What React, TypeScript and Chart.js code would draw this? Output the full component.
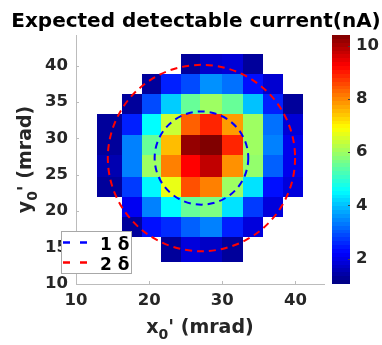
import React, { useEffect, useRef } from "react";
import { Chart, registerables } from "chart.js";

Chart.register(...registerables);

const chartTitle = "Expected detectable current(nA)";
const xLabelParts = ["x", "0", "' (mrad)"];
const yLabelParts = ["y", "0", "' (mrad)"];

const xTicks = [10, 20, 30, 40];
const yTicks = [10, 15, 20, 25, 30, 35, 40];
const colorTicks = [2, 4, 6, 8, 10];
const xRange = [10, 43.9];
const yRange = [10, 44.2];
const colorRange = [1.05, 10.4];

// cell edges in mrad (columns left->right, rows top->bottom)
const xEdges = [12.91, 16.33, 18.99, 21.63, 24.32, 26.96, 29.93, 32.89, 35.62, 38.36, 41.09];
const yEdges = [41.55, 38.8, 36.06, 33.32, 30.44, 27.7, 24.75, 21.93, 19.19, 16.45, 13.02];

const N = null;
// expected detectable current (nA), rows top->bottom
const currentRows: (number | null)[][] = [
  [N, N, N, N, 1.3, 1.75, 1.85, 1.3, N, N],
  [N, N, 1.3, 2.5, 2.9, 3.55, 3.25, 2.35, 1.8, N],
  [N, 1.3, 2.9, 4.1, 5.5, 6.0, 5.5, 4.0, 2.5, 1.3],
  [1.3, 2.5, 4.56, 6.4, 8.35, 8.9, 7.8, 6.0, 3.25, 1.85],
  [1.3, 3.4, 5.5, 7.5, 10.2, 10.4, 8.9, 6.0, 3.4, 2.05],
  [1.5, 3.4, 6.0, 8.06, 9.23, 9.8, 7.9, 5.9, 3.1, 2.05],
  [1.3, 2.75, 4.5, 6.7, 8.5, 8.06, 6.0, 4.3, 2.35, 1.9],
  [N, 2.1, 3.4, 4.56, 5.5, 5.7, 4.3, 2.75, 1.9, N],
  [N, 1.3, 2.35, 2.6, 3.1, 3.4, 2.5, 1.9, N, N],
  [N, N, N, 1.3, 1.9, 1.7, 1.3, N, N, N],
];

const sigmaLabels = ["1 δ", "2 δ"];
const sigmaColors = ["#0000ff", "#ff0000"];
const sigmaCenter = [27.15, 27.3];
const sigmaRadii = [6.4, 12.8];

const FONT = "'DejaVu Sans', sans-serif";
const TEXT = "#262626";
const AXIS = "#bcbcbc";

function jet(t: number) {
  const tt = Math.max(0, Math.min(1, t));
  const c = (v: number) => Math.round(255 * Math.max(0, Math.min(1, v)));
  const r = c(Math.min(4 * tt - 1.5, -4 * tt + 4.5));
  const g = c(Math.min(4 * tt - 0.5, -4 * tt + 3.5));
  const b = c(Math.min(4 * tt + 0.5, -4 * tt + 2.5));
  return `rgb(${r},${g},${b})`;
}

function drawSubLabel(ctx: CanvasRenderingContext2D, parts: string[], size: number, subSize: number) {
  ctx.font = `bold ${size}px ${FONT}`;
  const w0 = ctx.measureText(parts[0]).width;
  const w2 = ctx.measureText(parts[2]).width;
  ctx.font = `bold ${subSize}px ${FONT}`;
  const w1 = ctx.measureText(parts[1]).width;
  const total = w0 + w1 + w2;
  let x = -total / 2;
  ctx.textAlign = "left";
  ctx.textBaseline = "alphabetic";
  ctx.font = `bold ${size}px ${FONT}`;
  ctx.fillText(parts[0], x, 0);
  x += w0;
  ctx.font = `bold ${subSize}px ${FONT}`;
  ctx.fillText(parts[1], x, 6);
  x += w1;
  ctx.font = `bold ${size}px ${FONT}`;
  ctx.fillText(parts[2], x, 0);
}

const extrasPlugin = {
  id: "heatmapExtras",
  beforeDatasetsDraw(chart: any) {
    const { ctx } = chart;
    const xs = chart.scales.x;
    const ys = chart.scales.y;
    ctx.save();
    currentRows.forEach((row, r) => {
      row.forEach((v, c) => {
        if (v === null) return;
        const x0 = Math.round(xs.getPixelForValue(xEdges[c]));
        const x1 = Math.round(xs.getPixelForValue(xEdges[c + 1]));
        const y0 = Math.round(ys.getPixelForValue(yEdges[r]));
        const y1 = Math.round(ys.getPixelForValue(yEdges[r + 1]));
        ctx.fillStyle = jet((v - colorRange[0]) / (colorRange[1] - colorRange[0]));
        ctx.fillRect(x0, y0, x1 - x0, y1 - y0);
      });
    });
    const cx = xs.getPixelForValue(sigmaCenter[0]);
    const cy = ys.getPixelForValue(sigmaCenter[1]);
    sigmaRadii.forEach((rad, i) => {
      const rx = xs.getPixelForValue(sigmaCenter[0] + rad) - cx;
      const ry = cy - ys.getPixelForValue(sigmaCenter[1] + rad);
      ctx.beginPath();
      ctx.ellipse(cx, cy, rx, ry, 0, 0, Math.PI * 2);
      ctx.strokeStyle = sigmaColors[i];
      ctx.lineWidth = 2;
      ctx.setLineDash([7, 5]);
      ctx.stroke();
    });
    ctx.restore();
  },
  afterDraw(chart: any) {
    const { ctx, chartArea } = chart;
    const xs = chart.scales.x;
    const ys = chart.scales.y;
    const cb = chart.scales.cb;
    ctx.save();
    ctx.strokeStyle = AXIS;
    ctx.lineWidth = 1;
    xTicks.forEach((v) => {
      const px = Math.round(xs.getPixelForValue(v)) + 0.5;
      ctx.beginPath();
      ctx.moveTo(px, chartArea.bottom);
      ctx.lineTo(px, chartArea.bottom - 3);
      ctx.stroke();
    });
    yTicks.forEach((v) => {
      const py = Math.round(ys.getPixelForValue(v)) + 0.5;
      ctx.beginPath();
      ctx.moveTo(chartArea.left, py);
      ctx.lineTo(chartArea.left + 3, py);
      ctx.stroke();
    });
    // colorbar
    const barL = chartArea.right + 8;
    const barW = 18;
    const steps = 64;
    const span = colorRange[1] - colorRange[0];
    for (let k = 0; k < steps; k++) {
      const v0 = colorRange[0] + (k * span) / steps;
      const v1 = colorRange[0] + ((k + 1) * span) / steps;
      const yb = Math.round(cb.getPixelForValue(v0));
      const yt = Math.round(cb.getPixelForValue(v1));
      ctx.fillStyle = jet((k + 0.5) / steps);
      ctx.fillRect(barL, yt, barW, yb - yt);
    }
    ctx.strokeStyle = "#404040";
    colorTicks.forEach((v) => {
      const py = Math.round(cb.getPixelForValue(v)) + 0.5;
      ctx.beginPath();
      ctx.moveTo(barL + barW - 2, py);
      ctx.lineTo(barL + barW, py);
      ctx.stroke();
    });
    // legend
    const lx = 61, ly = 231, lw = 70, lh = 42;
    ctx.fillStyle = "#ffffff";
    ctx.fillRect(lx, ly, lw, lh);
    ctx.strokeStyle = "#a8a8a8";
    ctx.lineWidth = 1;
    ctx.strokeRect(lx + 0.5, ly + 0.5, lw, lh);
    sigmaLabels.forEach((lab, i) => {
      const yy = ly + 11.5 + i * 20;
      ctx.beginPath();
      ctx.setLineDash([7, 10]);
      ctx.strokeStyle = sigmaColors[i];
      ctx.lineWidth = 2.5;
      ctx.moveTo(lx + 2, yy);
      ctx.lineTo(lx + 28, yy);
      ctx.stroke();
      ctx.setLineDash([]);
      ctx.fillStyle = "#000000";
      ctx.font = `bold 17px ${FONT}`;
      ctx.textAlign = "left";
      ctx.textBaseline = "alphabetic";
      ctx.fillText(lab, lx + 39, yy + 7.5);
    });
    // title
    ctx.fillStyle = "#000000";
    ctx.font = `bold 20px ${FONT}`;
    ctx.textAlign = "center";
    ctx.textBaseline = "alphabetic";
    ctx.fillText(chartTitle, 196, 27);
    // axis titles
    ctx.fillStyle = TEXT;
    ctx.save();
    ctx.translate((chartArea.left + chartArea.right) / 2, 333);
    drawSubLabel(ctx, xLabelParts, 19, 14);
    ctx.restore();
    ctx.save();
    ctx.translate(30.5, (chartArea.top + chartArea.bottom) / 2);
    ctx.rotate(-Math.PI / 2);
    drawSubLabel(ctx, yLabelParts, 19, 14);
    ctx.restore();
    ctx.restore();
  },
};

const tickFont = { family: FONT, size: 16.5, weight: "bold" as const };

export default function App() {
  const ref = useRef<HTMLCanvasElement | null>(null);
  useEffect(() => {
    if (!ref.current) return;
    const chart = new Chart(ref.current, {
      type: "scatter",
      data: {
        datasets: sigmaLabels.map((lab, i) => ({
          label: lab,
          data: [],
          borderColor: sigmaColors[i],
          borderDash: [7, 5],
          showLine: true,
        })),
      },
      options: {
        animation: false,
        responsive: false,
        devicePixelRatio: 1,
        layout: { padding: { top: 35, left: 0, right: 0, bottom: 0 } },
        plugins: { legend: { display: false }, title: { display: false }, tooltip: { enabled: false } },
        scales: {
          x: {
            type: "linear",
            position: "bottom",
            min: xRange[0],
            max: xRange[1],
            afterBuildTicks: (s: any) => { s.ticks = xTicks.map((v) => ({ value: v })); },
            afterFit: (s: any) => { s.height = 61; },
            grid: { display: false, drawTicks: false },
            border: { display: true, color: AXIS, width: 1 },
            ticks: { font: tickFont, color: TEXT, padding: 7, maxRotation: 0 },
          },
          y: {
            type: "linear",
            position: "left",
            min: yRange[0],
            max: yRange[1],
            afterBuildTicks: (s: any) => { s.ticks = yTicks.map((v) => ({ value: v })); },
            afterFit: (s: any) => { s.width = 76; },
            grid: { display: false, drawTicks: false },
            border: { display: true, color: AXIS, width: 1 },
            ticks: { font: tickFont, color: TEXT, padding: 8 },
          },
          cb: {
            type: "linear",
            position: "right",
            min: colorRange[0],
            max: colorRange[1],
            afterBuildTicks: (s: any) => { s.ticks = colorTicks.map((v) => ({ value: v })); },
            afterFit: (s: any) => { s.width = 58; },
            grid: { display: true, drawOnChartArea: false, drawTicks: true, tickLength: 32, color: "rgba(0,0,0,0)" },
            border: { display: false },
            ticks: { font: tickFont, color: TEXT, padding: 0 },
          },
        },
      },
      plugins: [extrasPlugin],
    } as any);
    return () => chart.destroy();
  }, []);
  return (
    <div style={{ position: "absolute", left: 0, top: 0, width: 382, height: 345, background: "#ffffff" }}>
      <canvas ref={ref} width={382} height={345} style={{ display: "block" }} />
    </div>
  );
}
